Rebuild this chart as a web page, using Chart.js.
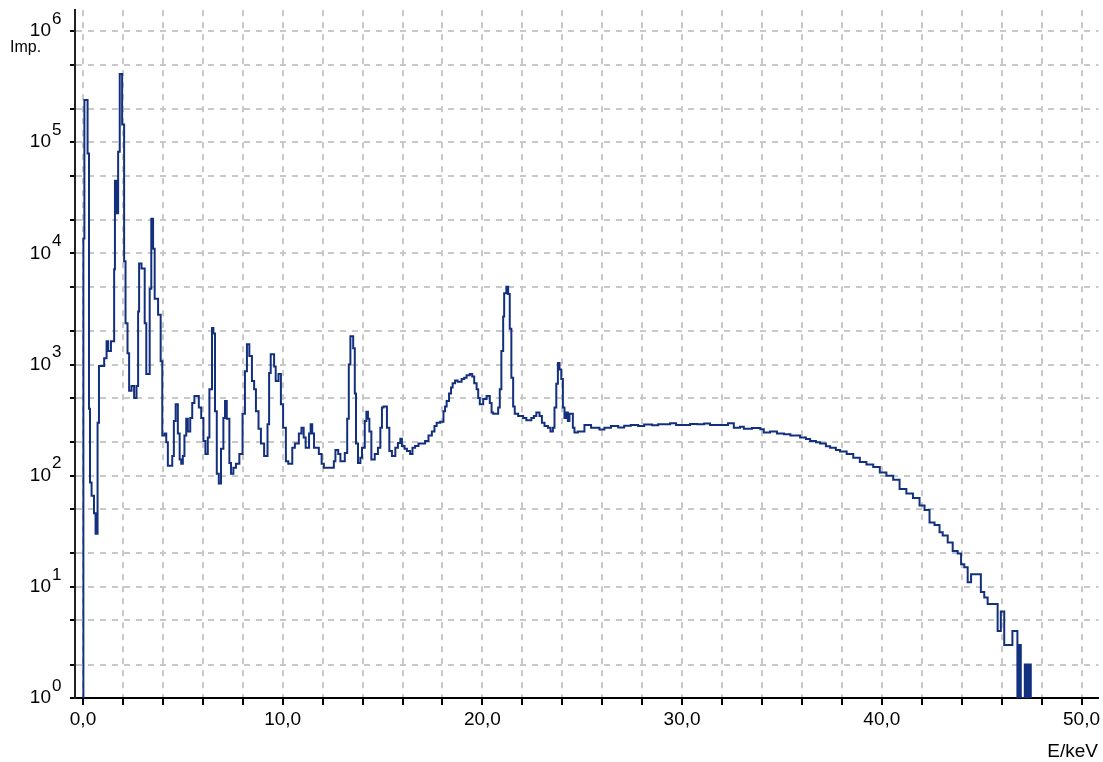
<!DOCTYPE html>
<html>
<head>
<meta charset="utf-8">
<title>Spektrum</title>
<script src="https://cdn.jsdelivr.net/npm/chart.js@4.4.0/dist/chart.umd.min.js"></script>
<style>
    html,body{margin:0;padding:0;background:#fff;}
    canvas{display:block;}
</style>
</head>
<body>
<canvas id="spectrumChart" width="1103" height="762"></canvas>
<script>
const energy = [
    0.00,0.02,0.07,0.23,0.30,0.35,0.43,0.55,0.63,0.73,0.80,1.06,1.18,1.26,1.40,1.56,1.60,1.68,1.76,1.84,1.96,
    2.06,2.13,2.23,2.31,2.43,2.56,2.68,2.76,2.81,2.93,3.09,3.17,3.34,3.42,3.51,3.59,3.76,3.89,
    3.97,4.09,4.17,4.25,4.47,4.55,4.64,4.75,4.84,4.92,5.00,5.08,5.17,5.25,5.37,5.47,5.58,5.80,5.92,
    6.03,6.13,6.25,6.33,6.46,6.53,6.61,6.70,6.80,6.91,7.03,7.11,7.20,7.33,7.41,7.53,7.66,7.83,7.99,
    8.11,8.21,8.33,8.46,8.57,8.66,8.79,8.91,9.07,9.24,9.32,9.40,9.57,9.65,9.79,9.91,
    10.02,10.16,10.28,10.48,10.61,10.81,10.94,11.05,11.15,11.32,11.40,11.48,11.57,11.81,11.95,
    12.06,12.56,12.64,12.78,12.89,13.11,13.23,13.31,13.39,13.53,13.61,13.67,13.77,13.89,13.97,
    14.11,14.19,14.27,14.34,14.44,14.61,14.77,14.89,14.97,15.05,15.22,15.34,15.47,15.64,15.77,15.89,15.97,
    16.10,16.22,16.38,16.50,16.63,16.80,17.13,17.30,17.47,17.60,17.71,17.88,
    18.05,18.13,18.21,18.33,18.43,18.51,18.63,18.76,18.96,19.09,19.21,19.37,19.49,19.59,19.71,19.79,19.87,
    20.04,20.21,20.37,20.46,20.54,20.79,20.87,20.95,21.04,21.09,21.20,21.29,21.37,21.45,21.54,21.62,21.79,
    22.04,22.20,22.45,22.58,22.70,22.86,22.98,23.11,23.28,23.41,23.53,23.61,23.70,23.78,23.86,23.95,
    24.03,24.11,24.20,24.28,24.36,24.53,24.61,24.78,25.11,25.44,25.86,
    26.11,26.44,26.80,27.10,27.43,27.80,28.10,28.50,28.80,29.10,29.40,29.70,30.10,30.40,30.76,31.10,31.40,31.93,32.30,
    32.59,32.90,33.09,33.50,33.92,34.09,34.40,34.75,35.10,35.42,35.91,36.20,36.41,36.70,36.91,37.20,37.41,37.70,37.91,
    38.24,38.57,38.90,39.23,39.57,39.90,40.23,40.57,40.89,41.23,41.56,41.89,42.14,42.39,42.64,42.89,43.05,43.30,43.55,43.80,43.97,
    44.13,44.30,44.47,44.96,45.13,45.30,45.46,45.80,45.96,46.13,46.54,46.79,46.88,46.96,47.16,47.21,47.25,47.29,47.33,47.37,47.41,47.46
];
const counts = [
    1,13600,240000,79000,400,87,66,46,30,300,970,1140,1620,1320,1620,7200,45000,23000,82000,410000,144000,
    8500,2350,1260,580,640,500,640,3000,8100,7300,2350,820,4800,20500,11000,3900,2800,1070,
    230,240,200,123,150,310,440,240,140,128,150,230,325,250,330,450,520,410,330,
    205,157,220,600,2130,1900,380,104,85,175,330,470,325,130,104,118,128,157,360,
    870,1520,1190,710,600,380,265,195,150,290,840,1240,960,710,820,440,
    270,135,128,178,195,240,270,220,178,240,290,240,178,157,128,
    118,135,170,157,135,160,325,1000,1800,1400,550,195,130,145,178,
    310,375,325,250,140,157,178,270,410,420,270,167,150,178,197,215,185,
    175,167,157,178,185,195,205,230,250,280,300,305,
    380,420,470,550,620,680,720,700,740,760,800,820,780,680,600,500,440,
    490,520,450,370,360,410,600,1320,2700,4370,5000,4300,2100,760,420,360,345,
    330,315,330,345,370,345,300,280,270,250,270,410,670,1030,900,740,
    410,330,370,310,360,270,245,250,285,270,260,
    270,280,272,282,285,280,288,284,290,290,296,286,285,292,290,294,286,285,296,
    270,275,265,268,262,245,250,240,236,230,220,214,205,200,195,184,178,170,165,
    157,145,133,126,120,107,100,92,76,69,63,54,49,38,36,31,29,25,21,20,16,
    15,11,13,9,8,7,7,4,6,3,4,1,3,1,2,1,2,1,2,1,2,1
];
//axes
const xTicks = [0,2,4,6,8,10,12,14,16,18,20,22,24,26,28,30,32,34,36,38,40,42,44,46,48,50];
const xLabelEvery = 10;
const yGrid = [1,2,5,10,20,50,100,200,500,1e3,2e3,5e3,1e4,2e4,5e4,1e5,2e5,5e5,1e6];
const yDecades = [0,1,2,3,4,5,6];

const FONT = '"Liberation Sans", Arial, sans-serif';

//"10" with exponent on the left, axis names
const axisText = {
    id:'axisText',
    afterDraw(chart){
        const ctx = chart.ctx, ys = chart.scales.y;
        ctx.save();
        ctx.fillStyle = '#000';
        ctx.textBaseline = 'middle';
        yDecades.forEach(n=>{
            const py = ys.getPixelForValue(Math.pow(10,n));
            ctx.font = `19px ${FONT}`;
            ctx.textAlign = 'right';
            ctx.fillText('10',51,py);
            ctx.font = `17px ${FONT}`;
            ctx.textAlign = 'left';
            ctx.fillText(String(n),52,py-12);
        });
        ctx.textBaseline = 'alphabetic';
        ctx.font = `16px ${FONT}`;
        ctx.textAlign = 'left';
        ctx.fillText('Imp.',10,52);
        ctx.font = `19px ${FONT}`;
        ctx.textAlign = 'right';
        ctx.fillText('E/keV',1098,757);
        ctx.restore();
    }
};

const gridOpts = {
    color:'#c8c8c8',
    lineWidth:2,
    tickColor:'#000',
    tickWidth:2,
    tickBorderDash:[]
};

var ctx = document.getElementById('spectrumChart').getContext('2d');
var chart = new Chart(ctx,{
    type:'line',
    data:{
        datasets:[{
            label:'Imp.',
            data:energy.map((e,i)=>({x:e,y:counts[i]})),
            stepped:true,
            borderColor:'#13307e',
            borderWidth:2,
            pointRadius:0,
            fill:false
        }]
    },
    options:{
        responsive:false,
        animation:false,
        devicePixelRatio:1,
        events:[],
        layout:{padding:{top:8,left:0,right:0,bottom:0}},
        plugins:{legend:{display:false},tooltip:{enabled:false}},
        scales:{
            x:{
                type:'linear',
                min:-0.4,
                max:50.85,
                afterBuildTicks:s=>{ s.ticks = xTicks.map(v=>({value:v})); },
                afterFit:s=>{ s.height = 64; },
                grid:Object.assign({},gridOpts,{tickLength:7}),
                border:{color:'#000',width:2,dash:[6,6]},
                ticks:{
                    autoSkip:false,
                    maxRotation:0,
                    padding:3,
                    color:'#000',
                    font:{family:FONT,size:19},
                    callback:v=> v % xLabelEvery === 0 ? v.toFixed(1).replace('.',',') : ''
                }
            },
            y:{
                type:'logarithmic',
                min:1,
                max:1.54e6,
                afterBuildTicks:s=>{ s.ticks = yGrid.map(v=>({value:v})); },
                afterFit:s=>{ s.width = 75; },
                grid:Object.assign({},gridOpts,{tickLength:5}),
                border:{color:'#222',width:2,dash:[6,6]},
                ticks:{
                    autoSkip:false,
                    callback:()=>''
                }
            }
        }
    },
    plugins:[axisText]
});
</script>
</body>
</html>
